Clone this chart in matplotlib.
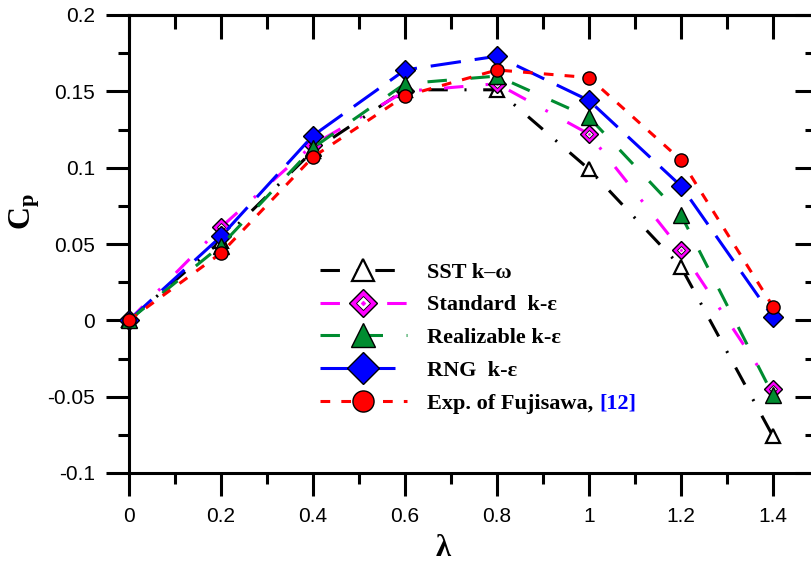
import matplotlib
matplotlib.use("Agg")
import matplotlib.pyplot as plt
from matplotlib.ticker import MultipleLocator
from matplotlib.transforms import IdentityTransform

# tip speed ratio and power coefficient
lam = [0, 0.2, 0.4, 0.6, 0.8, 1.0, 1.2, 1.4]
cp_sst = [0, 0.052, 0.111, 0.151, 0.151, 0.099, 0.035, -0.076]
cp_standard = [0, 0.061, 0.115, 0.150, 0.155, 0.122, 0.046, -0.045]
cp_realizable = [0, 0.049, 0.113, 0.155, 0.160, 0.133, 0.069, -0.049]
cp_rng = [0, 0.055, 0.121, 0.164, 0.173, 0.144, 0.088, 0.002]
cp_exp = [0, 0.044, 0.107, 0.147, 0.164, 0.159, 0.105, 0.009]

labels = ["SST k\u2013\u03c9", "Standard  k-\u03b5", "Realizable k-\u03b5",
          "RNG  k-\u03b5", "Exp. of Fujisawa,"]
ref_label = "[12]"

plt.rcParams['lines.scale_dashes'] = False
plt.rcParams['mathtext.fontset'] = 'custom'
plt.rcParams['mathtext.bf'] = 'Liberation Serif:bold'
plt.rcParams['mathtext.rm'] = 'Liberation Serif'

W, H = 811, 564
fig = plt.figure(figsize=(W / 100, H / 100), dpi=100)
# axes box in pixels: left 129, right 819, top 15, bottom 473
ax = fig.add_axes([129 / W, (H - 473) / H, 690 / W, 458 / H])

lw = 2.2
l_sst, = ax.plot(lam, cp_sst, color='black', lw=lw, dashes=(14, 12, 1.5, 12),
                 marker='^', ms=10, mfc='white', mec='black', mew=1.6,
                 clip_on=False, zorder=3)
l_std, = ax.plot(lam, cp_standard, color='#ff00ff', lw=lw, dashes=(14, 16, 2, 16),
                 marker='D', ms=9, mfc='#ff00ff', mec='black', mew=1.0,
                 clip_on=False, zorder=4)
l_std_in, = ax.plot(lam, cp_standard, ls='none', marker='D', ms=4.5, mfc='white',
                    mec='black', mew=0.6, clip_on=False, zorder=4.1)
l_std_dot, = ax.plot(lam, cp_standard, ls='none', marker='D', ms=1.6, mfc='#ff00ff',
                     mec='#ff00ff', mew=0.3, clip_on=False, zorder=4.2)
l_rng, = ax.plot(lam, cp_rng, color='#0000ff', lw=lw, dashes=(22, 10),
                 marker='D', ms=10, mfc='#0000ff', mec='black', mew=1.0,
                 clip_on=False, zorder=5)
l_real, = ax.plot(lam, cp_realizable, color='#008c30', lw=lw, dashes=(14, 17),
                  marker='^', ms=11, mfc='#008c30', mec='black', mew=1.0,
                  clip_on=False, zorder=6)
l_exp, = ax.plot(lam, cp_exp, color='#ff0000', lw=lw, dashes=(7, 8),
                 marker='o', ms=9.5, mfc='#ff0000', mec='black', mew=1.0,
                 clip_on=False, zorder=7)

ax.set_xlim(0, 1.5)
ax.set_ylim(-0.1, 0.2)
ax.xaxis.set_minor_locator(MultipleLocator(0.1))
ax.yaxis.set_minor_locator(MultipleLocator(0.025))
ax.set_xticks([0, 0.2, 0.4, 0.6, 0.8, 1.0, 1.2, 1.4])
ax.set_xticklabels(['0', '0.2', '0.4', '0.6', '0.8', '1', '1.2', '1.4'])
ax.set_yticks([-0.1, -0.05, 0, 0.05, 0.1, 0.15, 0.2])
ax.set_yticklabels(['-0.1', '-0.05', '0', '0.05', '0.1', '0.15', '0.2'])

for s in ax.spines.values():
    s.set_linewidth(2.2)
ax.tick_params(which='both', direction='out', width=2.2, labelsize=15, pad=8,
               top=False, right=False)
ax.tick_params(which='major', length=16.5)
ax.tick_params(which='minor', length=8)
for lab in ax.get_xticklabels() + ax.get_yticklabels():
    lab.set_fontfamily('Liberation Sans')

# inward ticks on top and right
top = ax.secondary_xaxis('top')
top.set_xticks([0, 0.2, 0.4, 0.6, 0.8, 1.0, 1.2, 1.4])
top.xaxis.set_minor_locator(MultipleLocator(0.1))
top.tick_params(which='both', direction='in', width=2.2, labeltop=False)
top.tick_params(which='major', length=17.5)
top.tick_params(which='minor', length=10)
top.spines['top'].set_linewidth(2.2)
right = ax.secondary_yaxis('right')
right.set_yticks([-0.1, -0.05, 0, 0.05, 0.1, 0.15, 0.2])
right.yaxis.set_minor_locator(MultipleLocator(0.025))
right.tick_params(which='both', direction='in', width=2.2, labelright=False)
right.tick_params(which='major', length=17.5)
right.tick_params(which='minor', length=10)
right.spines['right'].set_linewidth(2.2)

fig.text(25 / W, 1 - 212 / H, r'$\mathbf{C_p}$', rotation=90, ha='center',
         va='center', fontsize=23)
fig.text(443 / W, 1 - 549 / H, '\u03bb', ha='center', va='center', fontsize=22,
         fontweight='bold', family=['Liberation Serif', 'DejaVu Serif'])

handles = [l_sst, (l_std, l_std_in, l_std_dot), l_real, l_rng, l_exp]
leg = fig.legend(handles, labels, loc='upper left',
                 bbox_to_anchor=(320 / W, 1 - 262 / H),
                 bbox_transform=fig.transFigure, frameon=False,
                 borderpad=0, borderaxespad=0, handlelength=3.9,
                 handletextpad=0.9, labelspacing=0.55, markerscale=1.6,
                 prop={'family': ['Liberation Serif', 'DejaVu Serif'],
                       'weight': 'bold', 'size': 16})

fig.canvas.draw()
bb = leg.get_texts()[-1].get_window_extent(fig.canvas.get_renderer())
fig.text(bb.x1 + 6, bb.y0, ref_label, transform=IdentityTransform(),
         ha='left', va='bottom', color='#0000ff', fontsize=16, fontweight='bold',
         family=['Liberation Serif', 'DejaVu Serif'])

plt.savefig('out.png', dpi=100)
